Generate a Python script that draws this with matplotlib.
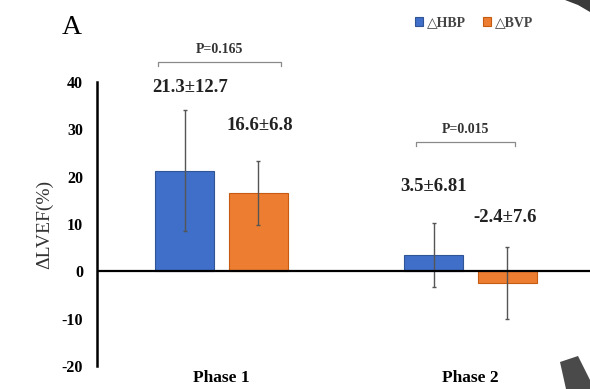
import matplotlib
matplotlib.use("Agg")
import matplotlib.pyplot as plt
import numpy as np
from matplotlib.patches import Polygon

# Data
phases = ["Phase 1", "Phase 2"]
hbp_mean = [21.3, 3.5]
hbp_sd = [12.7, 6.81]
bvp_mean = [16.6, -2.4]
bvp_sd = [6.8, 7.6]
series_names = ["△HBP", "△BVP"]
p_values = ["P=0.165", "P=0.015"]
y_ticks = [-20, -10, 0, 10, 20, 30, 40]

blue = "#3f6fc8"
orange = "#ed7d31"
serif = ["Liberation Serif", "DejaVu Serif"]
plt.rcParams["font.family"] = serif
plt.rcParams["axes.unicode_minus"] = False

fig = plt.figure(figsize=(5.9, 3.89), dpi=100)
ax = fig.add_axes([97 / 590, 23 / 389, 493 / 590, 284 / 389])

x = np.arange(len(phases))
w = 0.237
off = 0.147
err_kw = dict(ecolor="#555555", elinewidth=1.0, capsize=1.5, capthick=1.0)
ax.bar(x - off, hbp_mean, w, yerr=hbp_sd, color=blue, edgecolor="#2f5597",
       linewidth=0.8, error_kw=err_kw, label=series_names[0], zorder=2)
ax.bar(x + off, bvp_mean, w, yerr=bvp_sd, color=orange, edgecolor="#c55a11",
       linewidth=0.8, error_kw=err_kw, label=series_names[1], zorder=2)

# mean ± SD annotations
label_pos = [(-0.125, 38.9), (0.155, 30.9), (0.85, 18.0), (1.14, 11.4)]
texts = [f"{hbp_mean[0]}±{hbp_sd[0]}", f"{bvp_mean[0]}±{bvp_sd[0]}",
         f"{hbp_mean[1]}±{hbp_sd[1]}", f"{bvp_mean[1]}±{bvp_sd[1]}"]
for (tx, ty), t in zip(label_pos, texts):
    ax.text(tx, ty, t, ha="center", va="center", fontsize=13.5,
            fontweight="bold", color="#222222", clip_on=False)

# significance brackets
brackets = [(-0.257, 0.237, 44.2), (0.78, 1.177, 27.3)]
for (x0, x1, yb), p in zip(brackets, p_values):
    ax.plot([x0, x0, x1, x1], [yb - 0.9, yb, yb, yb - 0.9], color="#8a8a8a",
            lw=0.9, clip_on=False)
    ax.text((x0 + x1) / 2, yb + 2.6, p, ha="center", va="center", fontsize=10,
            fontweight="bold", color="#333333", clip_on=False)

ax.axhline(0, color="black", lw=1.6, zorder=3)
ax.set_xlim(-0.5, 1.48)
ax.set_ylim(-20, 40)
ax.set_yticks(y_ticks)
ax.set_xticks(x)
ax.set_xticklabels(phases, fontweight="bold", fontsize=12.5)
for lab in ax.get_yticklabels():
    lab.set_fontweight("bold")
    lab.set_fontsize(11.5)
ax.tick_params(axis="y", length=0, pad=10)
ax.tick_params(axis="x", length=0, pad=3)
for s in ["top", "right", "bottom"]:
    ax.spines[s].set_visible(False)
ax.spines["left"].set_linewidth(1.8)
ax.set_ylabel("ΔLVEF(%)", fontsize=14, labelpad=6, color="#333333")

leg = ax.legend(loc="center", bbox_to_anchor=(474 / 590, 1 - 23 / 389),
                bbox_transform=fig.transFigure, ncol=2, frameon=False,
                prop={"family": serif, "weight": "bold", "size": 10},
                handlelength=0.6, handleheight=0.6, columnspacing=1.2,
                handletextpad=0.3)
for t in leg.get_texts():
    t.set_color("#444444")

fig.text(72 / 590, 1 - 28 / 389, "A", fontsize=20, ha="center", va="center")

# dark shapes at the page edges
fig.patches.append(Polygon([[560 / 590, 1 - 362 / 389], [578 / 590, 1 - 356 / 389],
                            [590 / 590, 1 - 380 / 389], [590 / 590, 0],
                            [566 / 590, 0]], closed=True, transform=fig.transFigure,
                           facecolor="#4a4a4a", edgecolor="none"))
fig.patches.append(Polygon([[565 / 590, 1], [590 / 590, 1], [590 / 590, 1 - 12 / 389],
                            [578 / 590, 1 - 5 / 389]], closed=True,
                           transform=fig.transFigure, facecolor="#3a3a3a",
                           edgecolor="none"))

fig.savefig("out.png", dpi=100)
